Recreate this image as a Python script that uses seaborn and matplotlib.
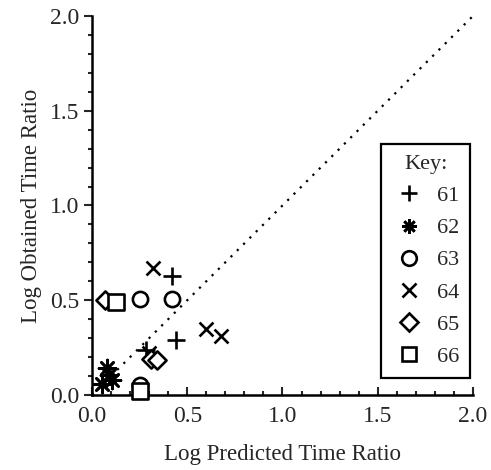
import matplotlib
matplotlib.use("Agg")
import matplotlib.pyplot as plt
from matplotlib.lines import Line2D
import seaborn as sns
import pandas as pd

# data
keys = ["61", "62", "63", "64", "65", "66"]
pred_61 = [0.42, 0.44, 0.285]
obt_61 = [0.63, 0.29, 0.235]
pred_62 = [0.08, 0.09, 0.05, 0.105]
obt_62 = [0.14, 0.105, 0.06, 0.08]
pred_63 = [0.25, 0.42, 0.25]
obt_63 = [0.505, 0.505, 0.055]
pred_64 = [0.32, 0.60, 0.675, 0.30]
obt_64 = [0.67, 0.35, 0.31, 0.22]
pred_65 = [0.07, 0.31, 0.34]
obt_65 = [0.50, 0.19, 0.185]
pred_66 = [0.125, 0.25]
obt_66 = [0.49, 0.02]

preds = [pred_61, pred_62, pred_63, pred_64, pred_65, pred_66]
obts = [obt_61, obt_62, obt_63, obt_64, obt_65, obt_66]

sns.set_style("ticks")
plt.rcParams['font.family'] = ['Liberation Serif', 'DejaVu Serif']

markers = {"61": "+", "62": (8, 2, 0), "63": "o", "64": "x", "65": "D", "66": "s"}
msize = {"61": 150, "62": 150, "63": 120, "64": 100, "65": 85, "66": 120}

fig = plt.figure(figsize=(4.91, 4.70), dpi=100)
ax = fig.add_axes([0.1874, 0.1596, 0.7759, 0.8064])

ax.plot([0, 2], [0, 2], color="black", linestyle=(0, (1, 3)), linewidth=1.6, zorder=1)

for k, xs, ys in zip(keys, preds, obts):
    df = pd.DataFrame({"pred": xs, "obt": ys})
    m = markers[k]
    if m in ("o", "D", "s"):
        sns.scatterplot(data=df, x="pred", y="obt", marker=m, s=msize[k],
                        facecolor="white", edgecolor="black", linewidth=1.9,
                        ax=ax, clip_on=False, zorder=3)
    else:
        sns.scatterplot(data=df, x="pred", y="obt", marker=m, s=msize[k],
                        color="black", linewidth=1.9, ax=ax, clip_on=False, zorder=3)

ax.set_xlim(0, 2)
ax.set_ylim(0, 2)
ax.set_xticks([0, 0.5, 1.0, 1.5, 2.0])
ax.set_yticks([0, 0.5, 1.0, 1.5, 2.0])
ax.set_xticks([i / 10 for i in range(21)], minor=True)
ax.set_yticks([i / 10 for i in range(21)], minor=True)
ax.set_xticklabels(["0.0", "0.5", "1.0", "1.5", "2.0"])
ax.set_yticklabels(["0.0", "0.5", "1.0", "1.5", "2.0"])
ax.tick_params(axis="x", which="major", direction="in", length=6, width=1.5, labelsize=17, pad=8)
ax.tick_params(axis="x", which="minor", direction="in", length=3, width=1.5)
ax.tick_params(axis="y", which="major", direction="out", length=6, width=1.5, labelsize=17, pad=3)
ax.tick_params(axis="y", which="minor", direction="out", length=3, width=1.5)
sns.despine(ax=ax)
for sp in ("left", "bottom"):
    ax.spines[sp].set_linewidth(1.8)
    ax.spines[sp].set_color("black")

ax.set_xlabel("Log Predicted Time Ratio", fontsize=16.5, labelpad=12)
ax.set_ylabel("Log Obtained Time Ratio", fontsize=16.5, labelpad=6)

handles = []
for k in keys:
    m = markers[k]
    if m in ("o", "D", "s"):
        h = Line2D([], [], linestyle="none", marker=m, markersize=10.5 if m != "D" else 9,
                   markerfacecolor="white", markeredgecolor="black", markeredgewidth=1.9)
    else:
        h = Line2D([], [], linestyle="none", marker=m, markersize=12 if m == "+" else 10.5,
                   color="black", markeredgewidth=1.9)
    handles.append(h)

leg = ax.legend(handles, keys, title="Key:", loc="lower right",
                bbox_to_anchor=(0.993, 0.045), borderaxespad=0, fontsize=16,
                title_fontsize=16, frameon=True, fancybox=False, edgecolor="black",
                framealpha=1, handletextpad=0.5, borderpad=0.5, labelspacing=0.52,
                handlelength=1.5)
leg.get_frame().set_linewidth(1.6)

fig.savefig("out.png", dpi=100)
